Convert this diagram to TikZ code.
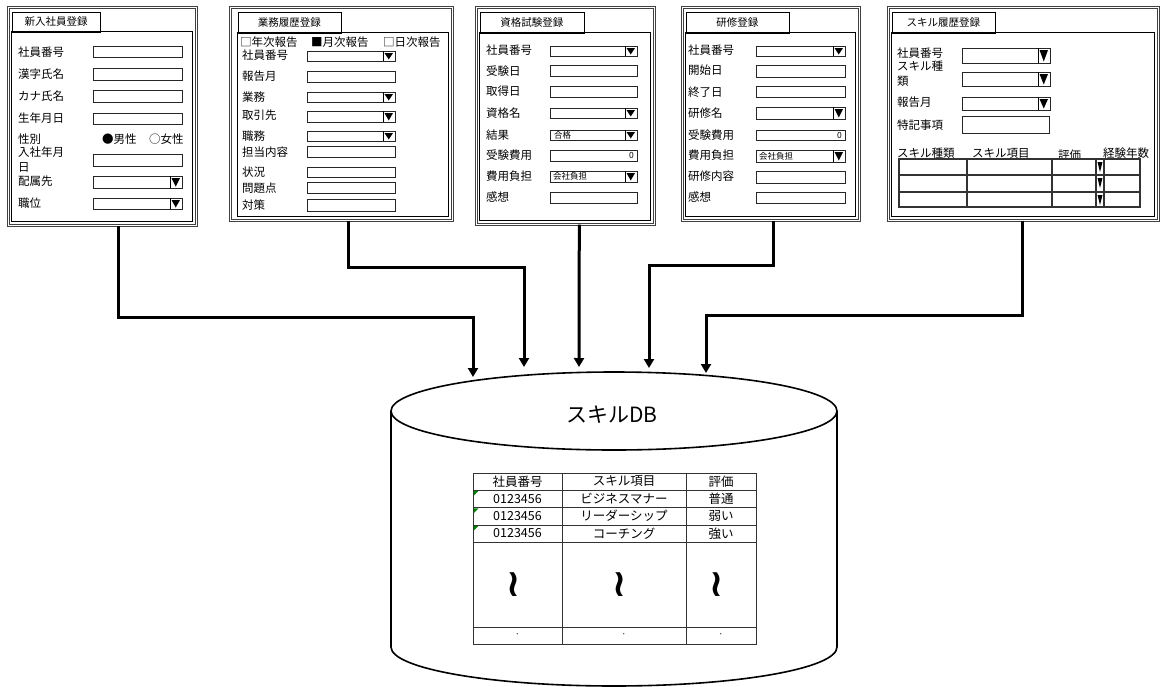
\documentclass[tikz,border=0pt]{standalone}
\usepackage{fontspec}
\setmainfont{Noto Sans CJK JP}
\newfontfamily\dvfont{DejaVu Sans}
\usetikzlibrary{arrows.meta}
\tikzset{
 frm/.style={draw=black!75, double=white, double distance=1.4pt, line width=0.6pt, inner sep=0pt, anchor=north west},
 tabbox/.style={draw=black, line width=0.7pt, inner sep=0pt, anchor=north west, font=\fontsize{10.5}{10.5}\selectfont},
 pnl/.style={draw=black, line width=0.7pt},
 fld/.style={draw=black!85, line width=0.7pt},
 lab/.style={anchor=west, inner sep=0pt, font=\fontsize{11.5}{11.5}\selectfont},
 val/.style={anchor=west, inner sep=0pt, font=\fontsize{8.5}{8.5}\selectfont},
 num/.style={anchor=east, inner sep=0pt, font=\fontsize{8.5}{8.5}\selectfont},
 conn/.style={line width=3pt, -{Triangle[length=9pt,width=10pt]}},
 cell/.style={inner sep=0pt, font=\fontsize{12.5}{12.5}\selectfont},
 wave/.style={inner sep=0pt, rotate=90, font=\dvfont\bfseries\fontsize{38}{38}\selectfont},
 tbl/.style={draw=black!80, line width=0.8pt},
 stbl/.style={draw=black!80, line width=1.1pt},
}
\newcommand{\fieldbox}[4]{\draw[fld] (#1,#2) rectangle (#3,#4);}
\newcommand{\combobox}[4]{\draw[fld] (#1,#2) rectangle (#3,#4);
  \draw[line width=1pt] ({#3-12},#2) -- ({#3-12},#4);
  \fill ({#3-10.5},{#2+2}) -- ({#3-2},{#2+2}) -- ({#3-6.25},{#4-1.5}) -- cycle;}
\begin{document}
\begin{tikzpicture}[x=1pt,y=-1pt]
\useasboundingbox (0,0) rectangle (1171,686);
\fill[white] (0,0) rectangle (1171,686);

% ---------------- Form 1 ----------------
\node[frm, minimum width=188pt, minimum height=218pt] (F1) at (8,7) {};
\draw[pnl] (11.5,31.5) rectangle (192.5,221.5);
\node[tabbox, minimum width=88.5pt, minimum height=20pt] (T1) at (11.5,11.5) {新入社員登録};
\node[lab] (a1) at (18,52) {社員番号};   \fieldbox{93}{46}{182}{57}
\node[lab] (a2) at (18,74) {漢字氏名};   \fieldbox{93}{68}{182}{80}
\node[lab] (a3) at (18,96) {カナ氏名};   \fieldbox{93}{90}{182}{102}
\node[lab] (a4) at (18,118) {生年月日};  \fieldbox{93}{113}{182}{124}
\node[lab] (a5) at (18,139) {性別};
\node[lab] (a6) at (102,139) {●男性};
\node[lab] (a6b) at (149,139) {○女性};
\node[lab] (a7) at (18,152) {入社年月};
\node[lab] (a8) at (18,167) {日};        \fieldbox{93}{154}{182}{166}
\node[lab] (a9) at (18,181) {配属先};    \combobox{93}{176}{182}{188}
\node[lab] (a10) at (18,203) {職位};     \combobox{93}{198}{182}{209}

% ---------------- Form 2 ----------------
\node[frm, minimum width=222pt, minimum height=213pt] (F2) at (230,7) {};
\draw[pnl] (237.5,32.5) rectangle (448.5,216.5);
\node[tabbox, minimum width=103pt, minimum height=21pt] (T2) at (237.5,11.5) {業務履歴登録};
\node[lab] (b0a) at (240,42) {□年次報告};
\node[lab] (b0b) at (311,42) {■月次報告};
\node[lab] (b0c) at (383,42) {□日次報告};
\node[lab] (b1) at (242,55) {社員番号};   \combobox{307}{51}{395}{61}
\node[lab] (b2) at (242,76) {報告月};     \fieldbox{307}{71}{395}{82}
\node[lab] (b3) at (242,97) {業務};       \combobox{307}{92}{395}{102}
\node[lab] (b4) at (242,115) {取引先};    \combobox{307}{111}{395}{122}
\node[lab] (b5) at (242,136) {職務};      \combobox{307}{131}{395}{141}
\node[lab] (b6) at (242,152) {担当内容};  \fieldbox{307}{146}{395}{157}
\node[lab] (b7) at (242,172) {状況};      \fieldbox{307}{167}{395}{177}
\node[lab] (b8) at (242,188) {問題点};    \fieldbox{307}{182}{395}{193}
\node[lab] (b9) at (242,205) {対策};      \fieldbox{307}{199}{395}{211}

% ---------------- Form 3 ----------------
\node[frm, minimum width=178pt, minimum height=217pt] (F3) at (476,7) {};
\draw[pnl] (479.5,32.5) rectangle (650.5,220.5);
\node[tabbox, minimum width=104pt, minimum height=21pt] (T3) at (479.5,11.5) {資格試験登録};
\node[lab] (c1) at (486,50) {社員番号};   \combobox{550}{46}{637}{56}
\node[lab] (c2) at (486,71) {受験日};     \fieldbox{550}{65}{637}{76}
\node[lab] (c3) at (486,91) {取得日};     \fieldbox{550}{86}{637}{97}
\node[lab] (c4) at (486,113) {資格名};    \combobox{550}{108}{637}{118}
\node[lab] (c5) at (486,135) {結果};      \combobox{550}{130}{637}{140}
\node[val] (c5v) at (554,135) {合格};
\node[lab] (c6) at (486,155) {受験費用};  \fieldbox{550}{150}{637}{161}
\node[num] (c6v) at (634,155) {0};
\node[lab] (c7) at (486,176) {費用負担};  \combobox{550}{171}{637}{182}
\node[val] (c7v) at (553,176) {会社負担};
\node[lab] (c8) at (486,197) {感想};      \fieldbox{550}{192}{637}{203}

% ---------------- Form 4 ----------------
\node[frm, minimum width=177pt, minimum height=213pt] (F4) at (682,7) {};
\draw[pnl] (685.5,32.5) rectangle (855.5,216.5);
\node[tabbox, minimum width=103pt, minimum height=21pt] (T4) at (685.5,11.5) {研修登録};
\node[lab] (d1) at (688,50) {社員番号};   \combobox{756}{46}{845}{56}
\node[lab] (d2) at (688,70) {開始日};     \fieldbox{756}{65}{845}{77}
\node[lab] (d3) at (688,92) {終了日};     \fieldbox{756}{86}{845}{97}
\node[lab] (d4) at (688,113) {研修名};    \combobox{756}{107}{845}{119}
\node[lab] (d5) at (688,135) {受験費用};  \fieldbox{756}{130}{845}{140}
\node[num] (d5v) at (842,135) {0};
\node[lab] (d6) at (688,155) {費用負担};  \combobox{756}{150}{845}{162}
\node[val] (d6v) at (759,156) {会社負担};
\node[lab] (d7) at (688,176) {研修内容};  \fieldbox{756}{171}{845}{183}
\node[lab] (d8) at (688,197) {感想};      \fieldbox{756}{192}{845}{203}

% ---------------- Form 5 ----------------
\node[frm, minimum width=270pt, minimum height=213pt] (F5) at (888,7) {};
\draw[pnl] (891.5,32.5) rectangle (1154.5,216.5);
\node[tabbox, minimum width=103pt, minimum height=21pt] (T5) at (891.5,11.5) {スキル履歴登録};
\node[lab] (e1) at (897,53) {社員番号};   \combobox{962}{48}{1050}{63}
\node[lab] (e2) at (897,66) {スキル種};
\node[lab] (e2b) at (897,81) {類};        \combobox{962}{72}{1050}{86}
\node[lab] (e3) at (897,102) {報告月};    \combobox{962}{97}{1050}{110}
\node[lab] (e4) at (897,125) {特記事項};  \fieldbox{962}{116}{1049}{133}
\node[lab] (e5) at (897,153) {スキル種類};
\node[lab] (e6) at (972,153) {スキル項目};
\node[lab] (e7) at (1058,155) {評価};
\node[lab] (e8) at (1103,153) {経験年数};
\draw[stbl] (899,159) rectangle (1140,207);
\draw[stbl] (899,175) -- (1140,175) (899,192) -- (1140,192);
\draw[stbl] (967,159) -- (967,207) (1052,159) -- (1052,207) (1096,159) -- (1096,207) (1104,159) -- (1104,207);
\foreach \r in {159,175,192}{
  \fill ({1097.5},{\r+3}) -- ({1102.5},{\r+3}) -- ({1100},{\r+13}) -- cycle;
}

% ---------------- Database cylinder ----------------
\fill[white] (391,411) -- (391,647) arc[start angle=180,end angle=360,x radius=223pt,y radius=39pt] -- (837,411) -- cycle;
\draw[line width=1.6pt] (391,411) -- (391,647) arc[start angle=180,end angle=360,x radius=223pt,y radius=39pt] -- (837,411);
\draw[line width=1.6pt, fill=white] (614,411) ellipse [x radius=223pt, y radius=39pt];
\node[inner sep=0pt, font=\fontsize{21}{21}\selectfont] (db) at (612,415) {スキルDB};

% table inside the database
\draw[tbl] (473,473) rectangle (756,644);
\draw[tbl] (473,490) -- (756,490) (473,507.5) -- (756,507.5) (473,525) -- (756,525) (473,542) -- (756,542) (473,627) -- (756,627);
\draw[tbl] (562,473) -- (562,644) (686,473) -- (686,644);
\node[cell] (h1) at (517.5,481.5) {社員番号};
\node[cell] (h2) at (624,481.5) {スキル項目};
\node[cell] (h3) at (721,481.5) {評価};
\node[cell] (r1a) at (517.5,499) {0123456};
\node[cell] (r1b) at (624,499) {ビジネスマナー};
\node[cell] (r1c) at (721,499) {普通};
\node[cell] (r2a) at (517.5,516) {0123456};
\node[cell] (r2b) at (624,516) {リーダーシップ};
\node[cell] (r2c) at (721,516) {弱い};
\node[cell] (r3a) at (517.5,533.5) {0123456};
\node[cell] (r3b) at (624,533.5) {コーチング};
\node[cell] (r3c) at (721,533.5) {強い};
\node[wave] (w1) at (517.5,585) {\char"007E};
\node[wave] (w2) at (624,585) {\char"007E};
\node[wave] (w3) at (721,585) {\char"007E};
\node[cell, font=\fontsize{9}{9}\selectfont] (p1) at (517.5,636) {·};
\node[cell, font=\fontsize{9}{9}\selectfont] (p2) at (624,636) {·};
\node[cell, font=\fontsize{9}{9}\selectfont] (p3) at (721,636) {·};
\foreach \r in {490,507.5,525}{
  \fill[green!50!black] (473.8,{\r+0.8}) -- (478.5,{\r+0.8}) -- (473.8,{\r+5.5}) -- cycle;
}

% ---------------- connectors ----------------
\coordinate (k1) at (473,317);  \coordinate (t1) at (473,377);
\coordinate (k2) at (524,267);  \coordinate (t2) at (524,367);
\coordinate (t3) at (579,367);
\coordinate (k4) at (649,265);  \coordinate (t4) at (649,368);
\coordinate (k5) at (706,315);  \coordinate (t5) at (706,373);
\draw[conn] ([xshift=16pt]F1.south) |- (k1) -- (t1);
\draw[conn] ([xshift=7pt]F2.south) |- (k2) -- (t2);
\draw[conn] ([xshift=14pt]F3.south) -- (t3);
\draw[conn] ([xshift=2.5pt]F4.south) |- (k4) -- (t4);
\draw[conn] ([xshift=-1pt]F5.south) |- (k5) -- (t5);
\end{tikzpicture}
\end{document}
